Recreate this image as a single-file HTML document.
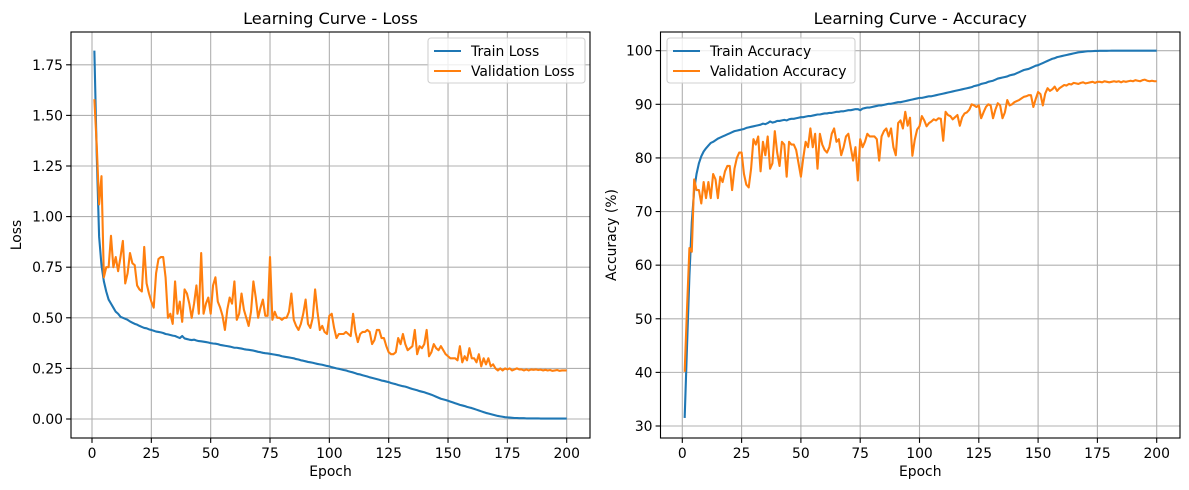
<!DOCTYPE html>
<html><head><meta charset="utf-8"><style>
html,body{margin:0;padding:0;background:#fff;width:1189px;height:490px;overflow:hidden}
svg text{font-family:"DejaVu Sans","Liberation Sans",sans-serif;fill:#000}
</style></head><body>
<svg id="fig" width="1189" height="490" viewBox="0 0 1189 490" xmlns="http://www.w3.org/2000/svg"></svg>
<script>
const epochs = Array.from({length:200},(_,i)=>i+1);
const trainLoss = [1.82,1.30,0.90,0.76,0.68,0.63,0.59,0.57,0.55,0.53,
0.52,0.505,0.50,0.495,0.49,0.482,0.476,0.47,0.466,0.46,
0.455,0.45,0.448,0.443,0.44,0.436,0.432,0.43,0.428,0.425,
0.42,0.418,0.415,0.412,0.41,0.405,0.40,0.41,0.398,0.395,
0.392,0.39,0.392,0.388,0.385,0.384,0.382,0.38,0.378,0.375,
0.373,0.372,0.37,0.366,0.364,0.362,0.36,0.358,0.355,0.352,
0.352,0.35,0.348,0.345,0.343,0.342,0.34,0.338,0.335,0.332,
0.33,0.327,0.325,0.324,0.322,0.32,0.318,0.316,0.314,0.31,
0.308,0.306,0.304,0.302,0.30,0.296,0.294,0.29,0.288,0.285,
0.282,0.28,0.278,0.275,0.272,0.27,0.268,0.265,0.262,0.26,
0.256,0.253,0.25,0.248,0.245,0.242,0.24,0.236,0.233,0.23,
0.226,0.222,0.22,0.216,0.213,0.21,0.206,0.203,0.20,0.197,
0.194,0.19,0.188,0.185,0.182,0.178,0.175,0.172,0.168,0.165,
0.162,0.16,0.156,0.152,0.148,0.145,0.142,0.138,0.135,0.132,
0.128,0.124,0.12,0.115,0.11,0.105,0.10,0.097,0.094,0.09,
0.086,0.082,0.078,0.074,0.07,0.067,0.064,0.06,0.057,0.054,
0.05,0.046,0.042,0.038,0.034,0.03,0.027,0.024,0.021,0.018,
0.015,0.013,0.011,0.009,0.008,0.007,0.006,0.005,0.005,0.004,
0.004,0.004,0.003,0.003,0.003,0.003,0.003,0.003,0.002,0.002,
0.002,0.002,0.002,0.002,0.002,0.002,0.002,0.002,0.002,0.002];
const valLoss = [1.58,1.35,1.06,1.20,0.70,0.75,0.75,0.905,0.75,0.80,
0.73,0.80,0.88,0.67,0.72,0.82,0.77,0.76,0.66,0.64,
0.63,0.85,0.67,0.62,0.58,0.55,0.72,0.79,0.80,0.80,
0.70,0.50,0.52,0.47,0.68,0.52,0.58,0.48,0.64,0.62,
0.57,0.50,0.57,0.66,0.52,0.82,0.52,0.57,0.60,0.52,
0.66,0.70,0.58,0.55,0.51,0.44,0.54,0.60,0.57,0.68,
0.49,0.52,0.62,0.54,0.50,0.46,0.53,0.68,0.60,0.50,
0.55,0.59,0.51,0.51,0.80,0.49,0.53,0.50,0.50,0.49,
0.50,0.50,0.53,0.62,0.49,0.46,0.44,0.47,0.52,0.59,
0.47,0.45,0.50,0.64,0.53,0.44,0.46,0.43,0.42,0.51,
0.52,0.45,0.40,0.42,0.42,0.42,0.43,0.42,0.41,0.52,
0.43,0.38,0.42,0.43,0.43,0.44,0.43,0.37,0.39,0.44,
0.44,0.40,0.40,0.36,0.33,0.32,0.32,0.33,0.40,0.37,
0.42,0.37,0.34,0.35,0.36,0.44,0.32,0.36,0.35,0.37,
0.44,0.31,0.33,0.37,0.35,0.34,0.36,0.34,0.32,0.31,
0.30,0.30,0.30,0.29,0.36,0.28,0.31,0.29,0.35,0.30,
0.30,0.28,0.32,0.26,0.30,0.27,0.30,0.26,0.27,0.25,
0.24,0.25,0.24,0.25,0.245,0.25,0.24,0.245,0.25,0.245,
0.245,0.24,0.245,0.24,0.245,0.243,0.245,0.242,0.244,0.24,
0.243,0.24,0.242,0.238,0.24,0.242,0.238,0.24,0.24,0.24];
const trainAcc = [31.5,45,58,68,74,77,79,80.3,81.2,81.8,
82.3,82.8,83.0,83.3,83.6,83.8,84.0,84.2,84.4,84.6,
84.8,85.0,85.1,85.2,85.3,85.4,85.6,85.7,85.8,85.9,
86.0,86.1,86.2,86.4,86.3,86.5,86.8,86.6,86.7,86.9,
86.9,87.0,87.1,87.0,87.2,87.3,87.3,87.4,87.5,87.6,
87.6,87.7,87.8,87.8,87.9,88.0,88.1,88.1,88.2,88.3,
88.3,88.4,88.4,88.5,88.6,88.6,88.7,88.7,88.8,88.9,
88.9,89.0,89.1,89.1,88.9,89.2,89.3,89.4,89.4,89.5,
89.6,89.7,89.8,89.8,89.9,90.0,90.1,90.1,90.2,90.3,
90.4,90.4,90.5,90.6,90.7,90.8,90.9,91.0,91.1,91.2,
91.2,91.3,91.4,91.5,91.5,91.6,91.7,91.8,91.9,92.0,
92.1,92.2,92.3,92.4,92.5,92.6,92.7,92.8,92.9,93.0,
93.1,93.2,93.4,93.5,93.6,93.8,93.9,94.0,94.2,94.3,
94.4,94.6,94.8,94.9,95.0,95.1,95.2,95.4,95.5,95.6,
95.8,96.0,96.2,96.4,96.5,96.6,96.8,97.0,97.2,97.3,
97.5,97.7,97.9,98.1,98.3,98.5,98.6,98.8,98.9,99.0,
99.1,99.2,99.3,99.4,99.5,99.6,99.7,99.75,99.8,99.85,
99.9,99.9,99.92,99.95,99.95,99.97,99.97,99.98,99.98,99.99,
100,100,100,100,100,100,100,100,100,100,
100,100,100,100,100,100,100,100,100,100];
const valAcc = [40.1,52,63.2,62.5,76,74,74,71.5,75.5,72.5,
75.5,72.5,77,76,72.5,76.5,75.5,77.5,78.5,78.5,
74,78,80,81,81,77,75,74.5,78,83.5,
82.5,84,77.5,83,80.5,84,78,79,85,81,
78.5,83,82.5,76.5,83,82.5,82.5,81.5,79,76.5,
80,83,82,85.5,82,84.5,78,84.5,82.5,81.5,
81,82,84.5,85.5,83,83.5,80.5,82,84,84.5,
82,79.5,82,75.8,83.5,82,83,84.5,84,84,
84,83.5,79.5,84,85,85.5,84,85.5,82,80.5,
86.5,87,85.5,88.6,86,87.5,80.4,83.4,85.3,85.9,
87.8,87.0,85.9,86.5,86.8,87.2,87.0,87.4,87.3,83.2,
88.6,88.0,87.8,87.2,87.6,88.0,86.0,87.6,88.3,88.5,
89.0,90.0,89.8,89.5,89.8,87.4,88.5,89.5,90.0,89.8,
87.4,89.0,90.2,89.8,87.4,88.5,90.8,89.8,90.0,90.4,
90.6,90.8,91.1,91.4,91.5,91.7,91.7,89.5,91.0,92.3,
91.9,89.8,92.0,93.0,92.5,92.8,93.3,92.5,93.0,93.3,
93.6,93.5,93.8,93.7,94.0,93.9,93.8,94.0,94.1,93.9,
94.0,94.1,94.2,94.0,94.2,94.2,94.1,94.3,94.2,94.1,
94.2,94.3,94.2,94.3,94.1,94.3,94.2,94.3,94.4,94.3,
94.5,94.4,94.3,94.5,94.6,94.4,94.3,94.4,94.3,94.3];
const xTicks = [0,25,50,75,100,125,150,175,200];
const lossTicks = [0,0.25,0.5,0.75,1.0,1.25,1.5,1.75];
const lossTickLabels = ["0.00","0.25","0.50","0.75","1.00","1.25","1.50","1.75"];
const accTicks = [30,40,50,60,70,80,90,100];

const NS="http://www.w3.org/2000/svg";
const fig=document.getElementById('fig');
function mk(tag,attrs,parent){const e=document.createElementNS(NS,tag);for(const k in attrs)e.setAttribute(k,attrs[k]);(parent||fig).appendChild(e);return e;}

function panel(cfg){
  const {L,R,T,B,x0,x1,y0,y1,yTicks,yLabels,title,ylabel,series,legend,name}=cfg;
  const g=mk('g',{});
  
  
  const sx=v=>x0[1]+(v-x0[0])*(x1[1]-x0[1])/(x1[0]-x0[0]);
  const sy=v=>y0[1]+(v-y0[0])*(y1[1]-y0[1])/(y1[0]-y0[0]);
  xTicks.forEach(t=>{
    const X=sx(t);
    const gl=mk('line',{x1:X,x2:X,y1:T,y2:B,stroke:'#b0b0b0','stroke-width':1.1},g);
    
    
    mk('line',{x1:X,x2:X,y1:B,y2:B+4.9,stroke:'#000','stroke-width':1.1},g);
    const tx=mk('text',{x:X,y:B+20,'text-anchor':'middle','font-size':'13.9px'},g);
    tx.textContent=t;
    
    
  });
  yTicks.forEach((t,i)=>{
    const Y=sy(t);
    const gl=mk('line',{x1:L,x2:R,y1:Y,y2:Y,stroke:'#b0b0b0','stroke-width':1.1},g);
    
    
    mk('line',{x1:L-4.9,x2:L,y1:Y,y2:Y,stroke:'#000','stroke-width':1.1},g);
    const tx=mk('text',{x:L-8,y:Y+5,'text-anchor':'end','font-size':'13.9px'},g);
    tx.textContent=yLabels[i];
    
    
  });
  series.forEach(s=>{
    const d=epochs.map((e,i)=>(i?'L':'M')+sx(e).toFixed(2)+','+sy(s.vals[i]).toFixed(2)).join('');
    const p=mk('path',{d:d,fill:'none',stroke:s.color,'stroke-width':2.1,'stroke-linejoin':'round'},g);
    
    
  });
  const fr=mk('rect',{x:L,y:T,width:R-L,height:B-T,fill:'none',stroke:'#000','stroke-width':1.1},g);
  
  
  const ti=mk('text',{x:(L+R)/2,y:T-8,'text-anchor':'middle','font-size':'16.2px'},g);
  ti.textContent=title;
  
  
  const xl=mk('text',{x:(L+R)/2,y:B+38,'text-anchor':'middle','font-size':'13.9px'},g);
  xl.textContent='Epoch';
  
  
  const yl=mk('text',{x:0,y:0,'text-anchor':'middle','font-size':'13.9px',transform:`translate(${cfg.ylx},${(T+B)/2}) rotate(-90)`},g);
  yl.textContent=ylabel;
  
  
  const lg=mk('g',{},g);
  
  
  mk('rect',{x:legend.x,y:legend.y,width:legend.w,height:45,rx:3,fill:'#fff','fill-opacity':0.8,stroke:'#d0d0d0','stroke-width':1.1},lg);
  series.forEach((s,i)=>{
    const yy=legend.y+13+i*20;
    const e=mk('g',{},lg);
    
    
    mk('line',{x1:legend.x+6,x2:legend.x+33,y1:yy,y2:yy,stroke:s.color,'stroke-width':2.1},e);
    const t=mk('text',{x:legend.x+43,y:yy+5,'font-size':'13.9px'},e);
    t.textContent=s.label;
  });
}

panel({name:'loss-panel',L:71,R:590,T:32,B:438,x0:[0,92],x1:[200,566.7],y0:[0,419],y1:[1.75,64.8],
  yTicks:lossTicks,yLabels:lossTickLabels,title:'Learning Curve - Loss',ylabel:'Loss',ylx:21,
  series:[{vals:trainLoss,color:'#1f77b4',label:'Train Loss',name:'train-loss-line'},{vals:valLoss,color:'#ff7f0e',label:'Validation Loss',name:'validation-loss-line'}],
  legend:{x:428,y:38,w:157}});
panel({name:'accuracy-panel',L:660.5,R:1180,T:32,B:438,x0:[0,682.3],x1:[200,1156.7],y0:[30,426],y1:[100,50.7],
  yTicks:accTicks,yLabels:accTicks.map(String),title:'Learning Curve - Accuracy',ylabel:'Accuracy (%)',ylx:616,
  series:[{vals:trainAcc,color:'#1f77b4',label:'Train Accuracy',name:'train-accuracy-line'},{vals:valAcc,color:'#ff7f0e',label:'Validation Accuracy',name:'validation-accuracy-line'}],
  legend:{x:667,y:38,w:188}});
</script>
</body></html>
